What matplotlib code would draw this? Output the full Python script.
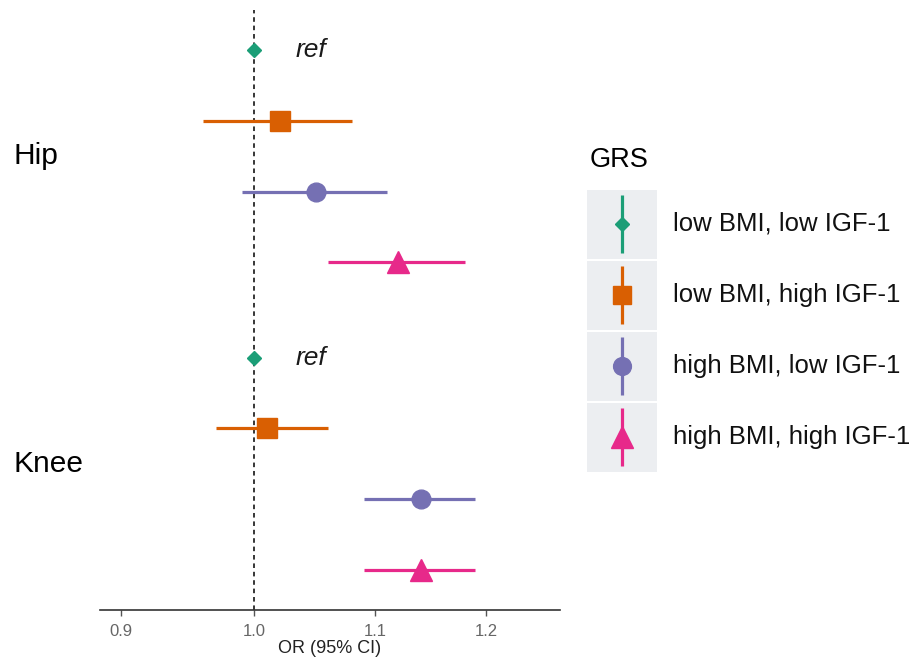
import matplotlib.pyplot as plt
from matplotlib.patches import Rectangle
import numpy as np

plt.rcParams['font.family'] = ['Liberation Sans', 'DejaVu Sans']

# data
groups = ['Hip', 'Knee']
grs = ['low BMI, low IGF-1', 'low BMI, high IGF-1',
       'high BMI, low IGF-1', 'high BMI, high IGF-1']
hip_or = [1.00, 1.02, 1.05, 1.12]
hip_lo = [1.00, 0.96, 0.99, 1.06]
hip_hi = [1.00, 1.08, 1.11, 1.18]
knee_or = [1.00, 1.01, 1.14, 1.14]
knee_lo = [1.00, 0.97, 1.09, 1.09]
knee_hi = [1.00, 1.06, 1.19, 1.19]
is_ref = [True, False, False, False]
xticks = [0.9, 1.0, 1.1, 1.2]

colors = ['#1B9E77', '#D95F02', '#7570B3', '#E7298A']
markers = ['D', 's', 'o', '^']
msizes = [7.5, 14, 13.5, 16]

fig = plt.figure(figsize=(9.11, 6.59), dpi=100)
ax = fig.add_axes([100 / 911, 49 / 659, 460 / 911, 600 / 659])

group_gap = 4.34
rows_per_group = [(hip_or, hip_lo, hip_hi), (knee_or, knee_lo, knee_hi)]
for g, (est, lo, hi) in enumerate(rows_per_group):
    for i in range(len(grs)):
        y = g * group_gap + i
        if not is_ref[i]:
            ax.plot([lo[i], hi[i]], [y, y], color=colors[i], lw=2.3,
                    solid_capstyle='butt', zorder=2)
        ax.plot(est[i], y, marker=markers[i], ms=msizes[i], color=colors[i],
                mec=colors[i], ls='none', zorder=3)
        if is_ref[i]:
            ax.text(1.033, y, 'ref', fontsize=19, style='italic',
                    va='center', ha='left', color='#1a1a1a')
    ax.text(-86 / 460, g * group_gap + 1.5, groups[g], fontsize=21.5,
            transform=ax.get_yaxis_transform(), va='center', ha='left')

ax.axvline(1.0, color='black', lw=1.1, ls=(0, (3, 2.5)), zorder=1)

ax.set_xscale('log')
ax.set_xlim(0.8855, 1.272)
ax.set_ylim(7.9, -0.56)
ax.set_xticks(xticks)
ax.set_xticklabels(['%.1f' % t for t in xticks])
ax.xaxis.set_minor_locator(plt.NullLocator())
ax.tick_params(axis='x', labelsize=12, colors='#555555', length=4,
               width=1, pad=6)
ax.tick_params(axis='x', labelcolor='#666666')
ax.set_yticks([])
ax.set_xlabel('OR (95% CI)', fontsize=13, color='#222222', labelpad=1)
for side in ['top', 'right', 'left']:
    ax.spines[side].set_visible(False)
ax.spines['bottom'].set_color('#333333')
ax.spines['bottom'].set_linewidth(1.2)

# legend drawn by hand, ggplot style with vertical keys
lax = fig.add_axes([587 / 911, (659 - 473) / 659, 324 / 911, 284 / 659])
lax.set_xlim(0, 324)
lax.set_ylim(284, 0)
lax.axis('off')
for i in range(len(grs)):
    top = i * 71
    lax.add_patch(Rectangle((0, top + 0.7), 70, 69.6, facecolor='#ECEEF1',
                            edgecolor='none'))
    lax.plot([35, 35], [top + 6, top + 64], color=colors[i], lw=2.3,
             solid_capstyle='butt')
    lax.plot(35, top + 35, marker=markers[i], ms=msizes[i] * 0.95,
             color=colors[i], mec=colors[i])
    lax.text(86, top + 35, grs[i], fontsize=18.5, va='center', ha='left',
             color='#111111')
fig.text(590 / 911, 1 - 160 / 659, 'GRS', fontsize=19.5, va='center',
         ha='left')

fig.savefig('out.png', dpi=100)
